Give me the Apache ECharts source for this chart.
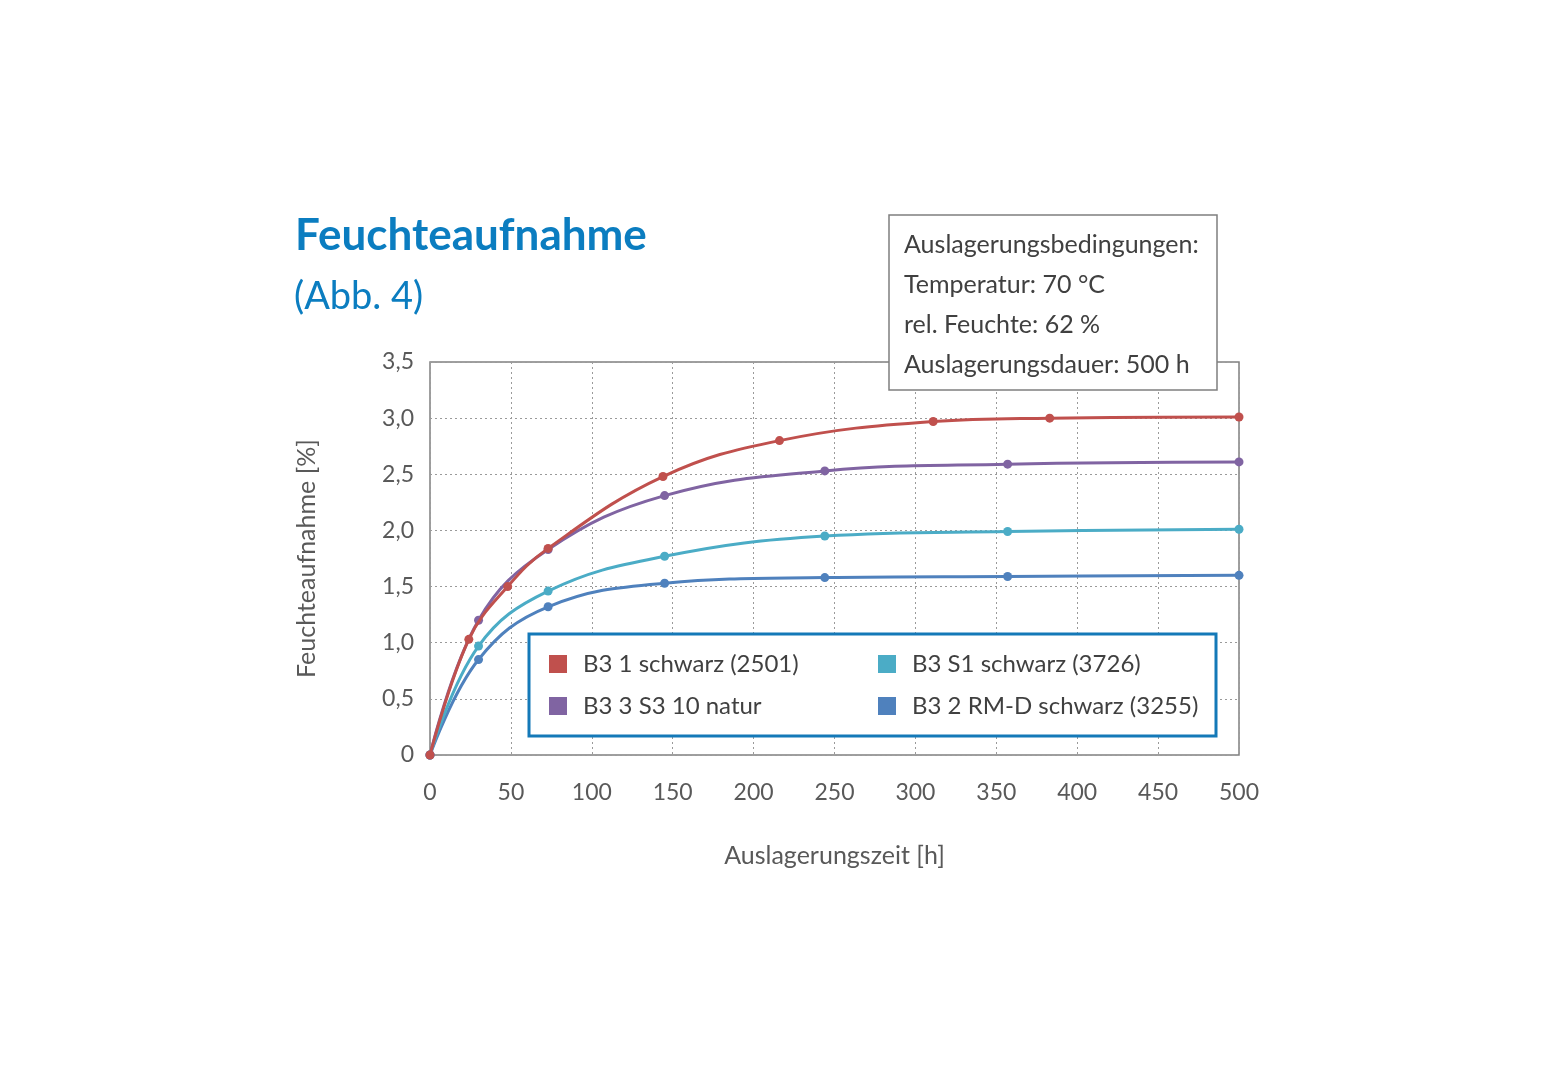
<!DOCTYPE html>
<html><head><meta charset="utf-8">
<script src="https://cdn.jsdelivr.net/npm/echarts@6/dist/echarts.min.js"></script>
<style>html,body{margin:0;padding:0;background:#fff}#c{width:1565px;height:1080px}</style>
</head><body><div id="c"></div>
<script>
const seriesNames = ['B3 1 schwarz (2501)', 'B3 3 S3 10 natur', 'B3 S1 schwarz (3726)', 'B3 2 RM-D schwarz (3255)'];
const seriesColors = ['#C0504D', '#8064A2', '#4BACC6', '#4F81BD'];
const redX = [0, 24, 48, 73, 144, 216, 311, 383, 500];
const redY = [0, 1.03, 1.50, 1.84, 2.48, 2.80, 2.97, 3.00, 3.01];
const purpleX = [0, 30, 73, 145, 244, 357, 500];
const purpleY = [0, 1.20, 1.83, 2.31, 2.53, 2.59, 2.61];
const cyanX = [0, 30, 73, 145, 244, 357, 500];
const cyanY = [0, 0.97, 1.46, 1.77, 1.95, 1.99, 2.01];
const blueX = [0, 30, 73, 145, 244, 357, 500];
const blueY = [0, 0.85, 1.32, 1.53, 1.58, 1.59, 1.60];
const infoLines = ['Auslagerungsbedingungen:', 'Temperatur: 70 °C', 'rel. Feuchte: 62 %', 'Auslagerungsdauer: 500 h'];

const FONT = 'Lato';
const pair = (xs, ys) => xs.map((x, i) => [x, ys[i]]);
const allData = [pair(redX, redY), pair(purpleX, purpleY), pair(cyanX, cyanY), pair(blueX, blueY)];

const chart = echarts.init(document.getElementById('c'));
chart.setOption({
  animation: false,
  textStyle: { fontFamily: FONT },
  grid: { left: 430, right: 326, top: 362, bottom: 325, show: true, borderColor: '#808080', borderWidth: 1.5, backgroundColor: 'transparent' },
  xAxis: {
    type: 'value', min: 0, max: 500, interval: 50,
    name: 'Auslagerungszeit [h]', nameLocation: 'middle', nameGap: 88,
    nameTextStyle: { fontSize: 25, color: '#595959', fontFamily: FONT },
    axisLine: { show: false }, axisTick: { show: false },
    axisLabel: { fontSize: 23, color: '#595959', margin: 26, fontFamily: FONT },
    splitLine: { show: true, lineStyle: { type: [2, 3], color: '#9a9a9a', width: 1 } }
  },
  yAxis: {
    type: 'value', min: 0, max: 3.5, interval: 0.5,
    name: 'Feuchteaufnahme [%]', nameLocation: 'middle', nameGap: 111, nameRotate: 90,
    nameTextStyle: { fontSize: 25, color: '#595959', fontFamily: FONT },
    axisLine: { show: false }, axisTick: { show: false },
    axisLabel: { fontSize: 23, color: '#595959', margin: 16, fontFamily: FONT,
      formatter: v => v === 0 ? '0' : v.toFixed(1).replace('.', ',') },
    splitLine: { show: true, lineStyle: { type: [2, 3], color: '#9a9a9a', width: 1 } }
  },
  legend: [
    { data: [seriesNames[0], seriesNames[1]], orient: 'vertical', left: 549, top: 652, padding: 0, itemWidth: 18, itemHeight: 18, itemGap: 18, icon: 'rect', z: 10,
      textStyle: { fontSize: 24, color: '#404040', fontFamily: FONT, padding: [0, 0, 0, 11] } },
    { data: [seriesNames[2], seriesNames[3]], orient: 'vertical', left: 878, top: 652, padding: 0, itemWidth: 18, itemHeight: 18, itemGap: 18, icon: 'rect', z: 10,
      textStyle: { fontSize: 24, color: '#404040', fontFamily: FONT, padding: [0, 0, 0, 11] } }
  ],
  graphic: [
    { type: 'text', left: 295, top: 214, style: { text: 'Feuchteaufnahme', fontSize: 44, fontWeight: 'bold', fill: '#0B7DC0', fontFamily: FONT } },
    { type: 'text', left: 294, top: 278, style: { text: '(Abb. 4)', fontSize: 38, fill: '#0B7DC0', fontFamily: FONT } },
    { type: 'rect', shape: { x: 529, y: 634, width: 687, height: 102 }, style: { fill: '#fff', stroke: '#1479B8', lineWidth: 3 }, z: 5 },
    { type: 'rect', shape: { x: 889, y: 215, width: 328, height: 175 }, style: { fill: '#fff', stroke: '#7f7f7f', lineWidth: 1.5 }, z: 5 },
    ...infoLines.map((t, i) => ({ type: 'text', x: 904, y: 245 + i * 40, z: 6,
      style: { text: t, fontSize: 25, fill: '#404040', fontFamily: FONT, textVerticalAlign: 'middle' } }))
  ],
  series: allData.map((d, i) => ({
    name: seriesNames[i], type: 'line', data: d, smooth: 0.4,
    symbol: 'circle', symbolSize: 9, color: seriesColors[i],
    lineStyle: { width: 3, color: seriesColors[i] }, itemStyle: { color: seriesColors[i] }, z: 3 - i * 0.1
  }))
});
</script></body></html>
